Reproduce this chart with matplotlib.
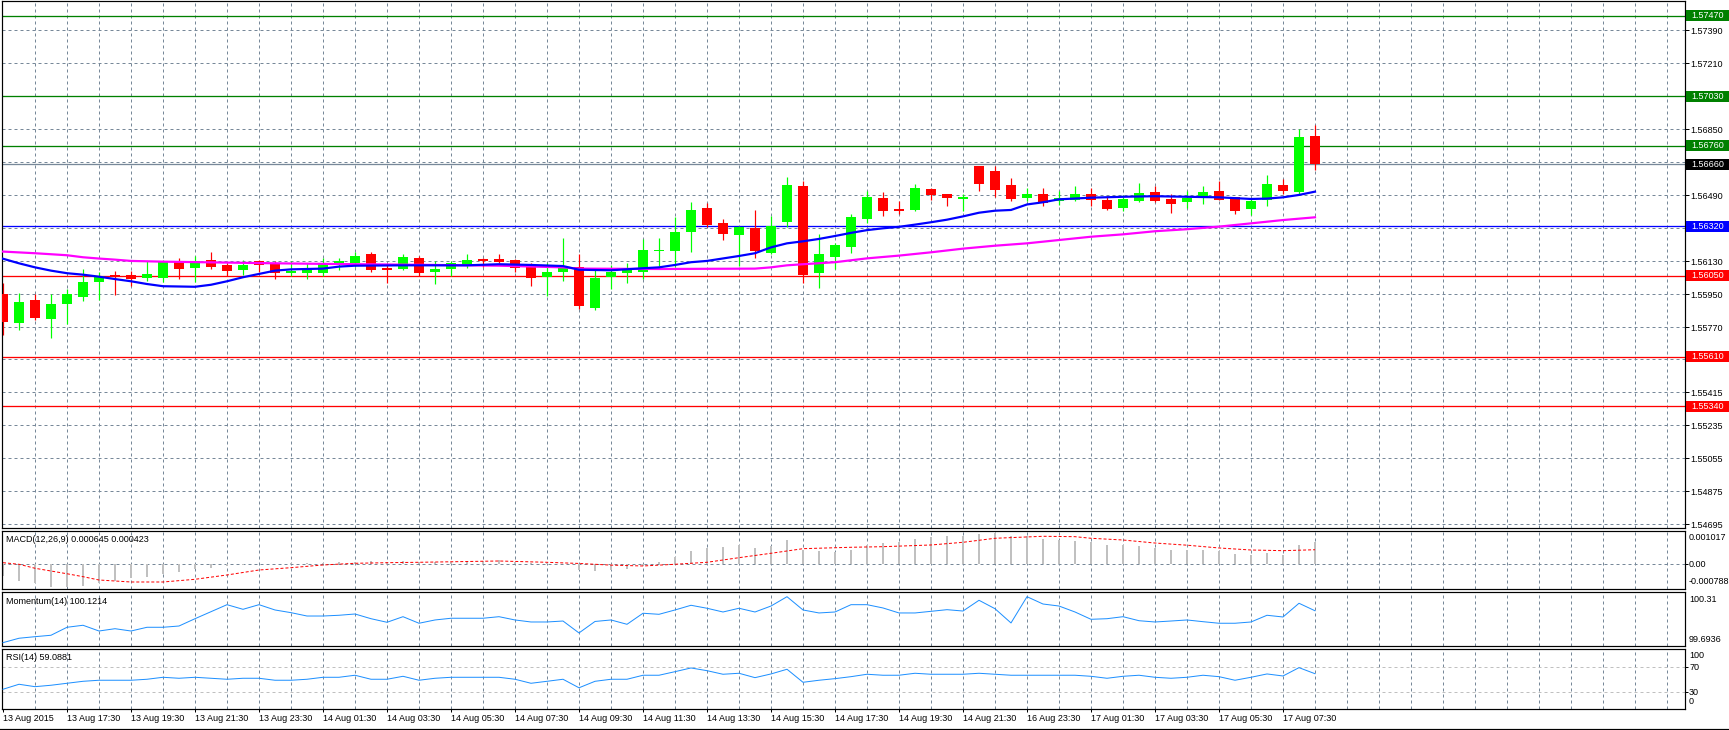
import matplotlib
matplotlib.use('Agg')
import matplotlib.pyplot as plt
from matplotlib.patches import Rectangle
from matplotlib.lines import Line2D
from matplotlib.transforms import IdentityTransform

W, H = 1729, 730
FS = 6.5
plt.rcParams['font.family'] = ['Liberation Sans', 'DejaVu Sans']

# ---------------- data (GBPUSD M30) ----------------
opens = [1.55952, 1.55795, 1.55919, 1.55815, 1.55897, 1.55937, 1.56017, 1.56054, 1.56055, 1.56040,
         1.56039, 1.56126, 1.56093, 1.56137, 1.56110, 1.56083, 1.56132, 1.56121, 1.56066, 1.56068,
         1.56066, 1.56110, 1.56119, 1.56170, 1.56093, 1.56088, 1.56148, 1.56073, 1.56088, 1.56108,
         1.56143, 1.56143, 1.56137, 1.56110, 1.56044, 1.56072, 1.56099, 1.55875, 1.56044, 1.56066,
         1.56072, 1.56188, 1.56188, 1.56291, 1.56421, 1.56339, 1.56275, 1.56313, 1.56177, 1.56346,
         1.56541, 1.56068, 1.56155, 1.56210, 1.56361, 1.56475, 1.56415, 1.56410, 1.56524, 1.56497,
         1.56471, 1.56650, 1.56623, 1.56546, 1.56477, 1.56497, 1.56459, 1.56464, 1.56497, 1.56464,
         1.56422, 1.56459, 1.56508, 1.56470, 1.56455, 1.56477, 1.56513, 1.56481, 1.56415, 1.56466,
         1.56546, 1.56510, 1.56813]
highs = [1.56013, 1.55955, 1.55952, 1.55952, 1.55977, 1.56086, 1.56072, 1.56079, 1.56079, 1.56130,
         1.56135, 1.56148, 1.56159, 1.56181, 1.56122, 1.56137, 1.56137, 1.56130, 1.56130, 1.56119,
         1.56148, 1.56148, 1.56182, 1.56182, 1.56110, 1.56170, 1.56157, 1.56132, 1.56132, 1.56170,
         1.56148, 1.56170, 1.56140, 1.56121, 1.56121, 1.56257, 1.56170, 1.56088, 1.56110, 1.56121,
         1.56252, 1.56257, 1.56373, 1.56453, 1.56450, 1.56361, 1.56320, 1.56410, 1.56377, 1.56590,
         1.56570, 1.56279, 1.56228, 1.56388, 1.56513, 1.56508, 1.56459, 1.56552, 1.56530, 1.56497,
         1.56497, 1.56650, 1.56650, 1.56584, 1.56530, 1.56530, 1.56515, 1.56541, 1.56530, 1.56486,
         1.56493, 1.56557, 1.56541, 1.56497, 1.56513, 1.56541, 1.56568, 1.56481, 1.56470, 1.56601,
         1.56579, 1.56850, 1.56873]
lows = [1.55726, 1.55755, 1.55810, 1.55713, 1.55788, 1.55915, 1.55919, 1.55948, 1.55995, 1.56024,
        1.56017, 1.56035, 1.56017, 1.56086, 1.56049, 1.56055, 1.56072, 1.56035, 1.56049, 1.56033,
        1.56049, 1.56083, 1.56097, 1.56072, 1.56013, 1.56083, 1.56049, 1.56008, 1.56051, 1.56093,
        1.56097, 1.56119, 1.56072, 1.55995, 1.55942, 1.56023, 1.55870, 1.55864, 1.55980, 1.56012,
        1.56033, 1.56104, 1.56101, 1.56182, 1.56315, 1.56248, 1.56106, 1.56150, 1.56170, 1.56317,
        1.56013, 1.55986, 1.56086, 1.56177, 1.56339, 1.56377, 1.56388, 1.56404, 1.56464, 1.56432,
        1.56406, 1.56515, 1.56481, 1.56461, 1.56459, 1.56433, 1.56437, 1.56459, 1.56432, 1.56410,
        1.56406, 1.56455, 1.56455, 1.56393, 1.56421, 1.56443, 1.56464, 1.56388, 1.56383, 1.56432,
        1.56497, 1.56497, 1.56630]
closes = [1.55800, 1.55908, 1.55822, 1.55897, 1.55952, 1.56017, 1.56049, 1.56043, 1.56035, 1.56061,
          1.56132, 1.56090, 1.56132, 1.56101, 1.56079, 1.56110, 1.56111, 1.56066, 1.56077, 1.56083,
          1.56121, 1.56132, 1.56159, 1.56083, 1.56084, 1.56153, 1.56066, 1.56088, 1.56121, 1.56137,
          1.56132, 1.56126, 1.56093, 1.56039, 1.56072, 1.56104, 1.55886, 1.56039, 1.56072, 1.56083,
          1.56192, 1.56192, 1.56290, 1.56410, 1.56330, 1.56281, 1.56317, 1.56188, 1.56323, 1.56546,
          1.56057, 1.56170, 1.56219, 1.56372, 1.56481, 1.56406, 1.56406, 1.56530, 1.56493, 1.56477,
          1.56481, 1.56553, 1.56521, 1.56471, 1.56497, 1.56450, 1.56477, 1.56497, 1.56464, 1.56417,
          1.56470, 1.56503, 1.56459, 1.56443, 1.56477, 1.56508, 1.56466, 1.56406, 1.56459, 1.56552,
          1.56515, 1.56808, 1.56660]

# moving averages (read at selected bars)
ma_fast_idx = [0, 1, 2, 3, 4, 5, 6, 7, 8, 9, 10, 12, 13, 14, 15, 16, 17, 18, 20, 21, 22, 25, 29, 31,
               33, 35, 36, 38, 40, 41, 42, 43, 44, 46, 47, 48, 49, 50, 51, 52, 53, 54, 55, 56, 57, 58,
               59, 60, 61, 62, 63, 64, 65, 66, 68, 70, 72, 74, 76, 78, 79, 80, 81, 82]
ma_fast_val = [1.56144, 1.56119, 1.56097, 1.56079, 1.56065, 1.56057, 1.56046, 1.56033, 1.56021, 1.56006,
               1.55994, 1.55991, 1.56002, 1.56021, 1.56043, 1.56061, 1.56079, 1.56086, 1.56090, 1.56101,
               1.56106, 1.56108, 1.56108, 1.56114, 1.56110, 1.56104, 1.56084, 1.56081, 1.56092, 1.56097,
               1.56110, 1.56125, 1.56132, 1.56159, 1.56174, 1.56206, 1.56228, 1.56239, 1.56252, 1.56268,
               1.56285, 1.56300, 1.56310, 1.56318, 1.56330, 1.56343, 1.56357, 1.56375, 1.56395, 1.56406,
               1.56410, 1.56440, 1.56452, 1.56468, 1.56477, 1.56482, 1.56485, 1.56482, 1.56479, 1.56470,
               1.56472, 1.56479, 1.56492, 1.56510]
ma_slow_idx = [0, 2, 4, 5, 6, 7, 8, 10, 14, 17, 21, 27, 31, 35, 36, 41, 47, 48, 49, 50, 52, 54, 56, 58,
               60, 62, 64, 66, 68, 70, 72, 74, 76, 78, 80, 82]
ma_slow_val = [1.56183, 1.56174, 1.56163, 1.56152, 1.56145, 1.56139, 1.56132, 1.56128, 1.56123, 1.56119,
               1.56115, 1.56110, 1.56106, 1.56097, 1.56090, 1.56088, 1.56090, 1.56097, 1.56108, 1.56114,
               1.56125, 1.56146, 1.56161, 1.56179, 1.56199, 1.56215, 1.56228, 1.56246, 1.56264, 1.56277,
               1.56294, 1.56305, 1.56319, 1.56337, 1.56355, 1.56370]

# horizontal levels
level_prices = [1.57470, 1.57030, 1.56760, 1.56320, 1.56050, 1.55610, 1.55340]
level_colors = ['#008000', '#008000', '#008000', '#0000ff', '#ff0000', '#ff0000', '#ff0000']
level_labels = ['1.57470', '1.57030', '1.56760', '1.56320', '1.56050', '1.55610', '1.55340']
bid_price = 1.56660
bid_label = '1.56660'

price_ticks = [1.57390, 1.57210, 1.57030, 1.56850, 1.56670, 1.56490, 1.56310, 1.56130,
               1.55950, 1.55770, 1.55595, 1.55415, 1.55235, 1.55055, 1.54875, 1.54695]
price_tick_labels = ['1.57390', '1.57210', '', '1.56850', '', '1.56490', '', '1.56130',
                     '1.55950', '1.55770', '', '1.55415', '1.55235', '1.55055', '1.54875', '1.54695']

# MACD
macd_main = [-0.000367, -0.000509, -0.000587, -0.000707, -0.000707, -0.000659, -0.000569, -0.000509, -0.000436, -0.000388,
             -0.000307, -0.000238, -0.000166, -0.000117, -0.000057, -0.000027, -0.000010, 0.000005, 0.000010, 0.000020,
             0.000030, 0.000054, 0.000054, 0.000093, 0.000060, 0.000090, 0.000060, 0.000060, 0.000065, 0.000075,
             0.000075, 0.000105, 0.000060, 0.000030, 0.000010, 0.000005, -0.000187, -0.000208, -0.000187, -0.000147,
             -0.000057, 0.000045, 0.000214, 0.000385, 0.000476, 0.000506, 0.000575, 0.000476, 0.000536, 0.000716,
             0.000430, 0.000385, 0.000355, 0.000415, 0.000575, 0.000626, 0.000656, 0.000746, 0.000807, 0.000837,
             0.000837, 0.000897, 0.000918, 0.000837, 0.000837, 0.000746, 0.000716, 0.000686, 0.000656, 0.000566,
             0.000566, 0.000536, 0.000476, 0.000415, 0.000415, 0.000415, 0.000394, 0.000295, 0.000265, 0.000325,
             0.000265, 0.000566, 0.000645]
macd_sig_idx = [0, 1, 2, 4, 5, 6, 8, 10, 12, 14, 16, 18, 20, 22, 24, 26, 31, 34, 36, 38, 40, 42, 44, 46,
                48, 50, 53, 55, 58, 60, 62, 65, 67, 68, 70, 72, 74, 76, 78, 80, 82]
macd_sig_val = [0.000033, -0.000015, -0.000135, -0.000300, -0.000388, -0.000488, -0.000548, -0.000548,
                -0.000467, -0.000337, -0.000187, -0.000117, -0.000036, 0.000015, 0.000033, 0.000045,
                0.000084, 0.000045, 0.000010, -0.000040, -0.000066, -0.000015, 0.000045, 0.000184,
                0.000316, 0.000455, 0.000497, 0.000515, 0.000566, 0.000647, 0.000768, 0.000828,
                0.000816, 0.000768, 0.000716, 0.000625, 0.000560, 0.000476, 0.000415, 0.000395, 0.000423]

momentum = [99.694, 99.753, 99.774, 99.793, 99.900, 99.927, 99.850, 99.881, 99.850, 99.900,
            99.900, 99.917, 100.015, 100.109, 100.203, 100.141, 100.203, 100.132, 100.096, 100.051,
            100.051, 100.061, 100.078, 100.015, 99.967, 100.042, 99.954, 99.998, 100.021, 100.021,
            100.021, 100.042, 99.998, 99.971, 99.971, 99.984, 99.824, 99.978, 99.998, 99.940,
            100.088, 100.074, 100.132, 100.195, 100.155, 100.105, 100.155, 100.105, 100.185, 100.310,
            100.132, 100.092, 100.105, 100.203, 100.203, 100.159, 100.092, 100.092, 100.114, 100.136,
            100.118, 100.262, 100.149, 99.958, 100.310, 100.212, 100.185, 100.105, 100.007, 100.015,
            100.042, 99.988, 99.971, 99.984, 99.998, 99.975, 99.954, 99.954, 99.971, 100.061,
            100.038, 100.222, 100.1214]

rsi = [33.9, 42.0, 38.1, 40.4, 43.6, 46.8, 48.5, 48.5, 48.5, 50.1,
       53.3, 51.7, 53.3, 51.7, 50.1, 51.7, 51.7, 48.5, 48.5, 50.1,
       53.3, 53.3, 56.6, 50.1, 50.1, 54.9, 48.5, 51.7, 53.3, 53.3,
       53.3, 53.3, 50.1, 43.6, 46.8, 50.1, 36.3, 46.8, 50.1, 50.1,
       56.6, 56.6, 62.4, 68.4, 64.0, 58.2, 59.8, 52.7, 58.7, 66.3,
       45.2, 48.5, 51.1, 54.3, 58.2, 56.6, 56.6, 59.8, 58.2, 58.2,
       58.2, 59.8, 58.2, 56.6, 56.6, 56.6, 56.6, 56.6, 54.9, 51.7,
       54.9, 56.6, 53.3, 51.7, 53.3, 56.6, 54.3, 48.5, 53.3, 58.7,
       55.4, 68.9, 59.0881]

time_tick_idx = [0, 4, 8, 12, 16, 20, 24, 28, 32, 36, 40, 44, 48, 52, 56, 60, 64, 68, 72, 76, 80]
time_tick_labels = ['13 Aug 2015', '13 Aug 17:30', '13 Aug 19:30', '13 Aug 21:30', '13 Aug 23:30',
                    '14 Aug 01:30', '14 Aug 03:30', '14 Aug 05:30', '14 Aug 07:30', '14 Aug 09:30',
                    '14 Aug 11:30', '14 Aug 13:30', '14 Aug 15:30', '14 Aug 17:30', '14 Aug 19:30',
                    '14 Aug 21:30', '16 Aug 23:30', '17 Aug 01:30', '17 Aug 03:30', '17 Aug 05:30',
                    '17 Aug 07:30']

# ---------------- styling ----------------
GRID = '#778899'
BULL = '#00ff00'
BEAR = '#ff0000'
PX = 0.72  # one pixel in points at dpi 100
DASH = (0, (3, 3))

fig = plt.figure(figsize=(W / 100, H / 100), dpi=100)
fig.patch.set_facecolor('white')


def rect(x0, y0, x1, y1):
    return [x0 / W, 1 - y1 / H, (x1 - x0) / W, (y1 - y0) / H]


X0, X1 = 2, 1685
ax_main = fig.add_axes(rect(X0, 1, X1, 528))
ax_macd = fig.add_axes(rect(X0, 531, X1, 589))
ax_mom = fig.add_axes(rect(X0, 592, X1, 646))
ax_rsi = fig.add_axes(rect(X0, 649, X1, 709))
axes = [ax_main, ax_macd, ax_mom, ax_rsi]

n = len(opens)
xs = list(range(n))
xlim = ((X0 - 3) / 16.0, (X1 - 3) / 16.0)
grid_x = list(range(2, 106, 2))

for ax in axes:
    ax.set_xlim(*xlim)
    ax.set_facecolor('white')
    for s in ax.spines.values():
        s.set_color('black')
        s.set_linewidth(PX * 1.2)
    for gx in grid_x:
        ax.axvline(gx, color=GRID, lw=PX, ls=DASH, zorder=0.5)
    ax.tick_params(axis='x', bottom=False, labelbottom=False)
    ax.tick_params(axis='y', left=False, labelleft=False, right=False, labelright=False)

# ---------------- main price panel ----------------
ax_main.set_ylim(1.54675, 1.57550)
ax_main.yaxis.tick_right()
ax_main.set_yticks(price_ticks)
ax_main.set_yticklabels(price_tick_labels)
ax_main.tick_params(axis='y', right=True, labelright=True, direction='out', length=2.9,
                    width=PX, pad=1.1, labelsize=FS, colors='black')
for yv in price_ticks:
    ax_main.axhline(yv, color=GRID, lw=PX, ls=DASH, zorder=0.5)

for p, c in zip(level_prices, level_colors):
    ax_main.axhline(p, color=c, lw=PX * 1.3, zorder=1)
ax_main.axhline(bid_price, color=GRID, lw=PX * 1.3, zorder=1)

# candles
min_body = 0.00006
for i in xs:
    o, h, l, c = opens[i], highs[i], lows[i], closes[i]
    col = BULL if c >= o else BEAR
    ax_main.vlines(i, l, h, color=col, lw=PX * 1.2, zorder=2)
    lo, hi = min(o, c), max(o, c)
    if hi - lo < min_body:
        mid = (hi + lo) / 2
        lo, hi = mid - min_body / 2, mid + min_body / 2
    ax_main.bar(i, hi - lo, bottom=lo, width=0.68, color=col, linewidth=0, zorder=3)

ax_main.plot(ma_slow_idx, ma_slow_val, color='#ff00ff', lw=PX * 2.2, zorder=4,
             solid_joinstyle='miter')
ax_main.plot(ma_fast_idx, ma_fast_val, color='#0000ff', lw=PX * 2.2, zorder=4,
             solid_joinstyle='miter')

# price boxes on the right axis
ident = IdentityTransform()


def price_box(p, txt, color):
    y = ax_main.transData.transform((0, p))[1]
    fig.add_artist(Rectangle((1686, y - 5.5), 44, 11, transform=ident, facecolor=color,
                             edgecolor='none', zorder=10))
    fig.text(1691, y, txt, transform=ident, color='white', fontsize=FS, va='center',
             ha='left', zorder=11)


for p, c, t in zip(level_prices, level_colors, level_labels):
    price_box(p, t, c)
price_box(bid_price, bid_label, '#000000')

# ---------------- MACD ----------------
ax_macd.set_ylim(-0.000759, 0.000987)
ax_macd.axhline(0, color=GRID, lw=PX, ls=DASH, zorder=0.5)
ax_macd.bar(xs, macd_main, width=0.13, color='#c0c0c0', linewidth=0, zorder=2)
ax_macd.plot(macd_sig_idx, macd_sig_val, color='#ff0000', lw=PX, ls=(0, (3, 2)), zorder=3)
ax_macd.yaxis.tick_right()
ax_macd.set_yticks([0])
ax_macd.set_yticklabels(['0.00'])
ax_macd.tick_params(axis='y', right=True, labelright=True, direction='out', length=2.2,
                    width=PX, pad=0.7, labelsize=FS, colors='black')

# ---------------- Momentum ----------------
ax_mom.set_ylim(99.649, 100.373)
ax_mom.plot(xs, momentum, color='#1e90ff', lw=PX, zorder=3)

# ---------------- RSI ----------------
ax_rsi.set_ylim(1.94, 99.1)
ax_rsi.axhline(70, color='#c0c0c0', lw=PX, ls=DASH, zorder=0.6)
ax_rsi.axhline(30, color='#c0c0c0', lw=PX, ls=DASH, zorder=0.6)
ax_rsi.plot(xs, rsi, color='#1e90ff', lw=PX, zorder=3)
ax_rsi.yaxis.tick_right()
ax_rsi.set_yticks([70, 30])
ax_rsi.set_yticklabels(['70', '30'])
ax_rsi.tick_params(axis='y', right=True, labelright=True, direction='out', length=2.2,
                   width=PX, pad=0.7, labelsize=FS, colors='black')

ax_rsi.set_xticks(time_tick_idx)
ax_rsi.set_xticklabels(time_tick_labels, ha='left')
ax_rsi.tick_params(axis='x', bottom=True, labelbottom=True, direction='out', length=2.2,
                   width=PX, pad=1.5, labelsize=FS, colors='black')

# indicator captions and scale texts
def ftext(x, y, s, **kw):
    fig.text(x, H - y, s, transform=ident, fontsize=FS, color='black', va='center', **kw)


ftext(6, 539.5, 'MACD(12,26,9) 0.000645 0.000423')
ftext(6, 601.5, 'Momentum(14) 100.1214')
ftext(6, 657.5, 'RSI(14) 59.0881')

ftext(1689, 537, '0.001017')
ftext(1689, 582, '-0.000788')
ftext(1689, 599, '100.31')
ftext(1689, 639, '99.6936')
ftext(1689, 655.5, '100')
ftext(1689, 702, '0')

fig.add_artist(Line2D([0, 1], [1 - 728.5 / H, 1 - 728.5 / H], transform=fig.transFigure,
                      color='black', lw=PX * 1.2))

fig.savefig('out.png', dpi=100, facecolor='white')
